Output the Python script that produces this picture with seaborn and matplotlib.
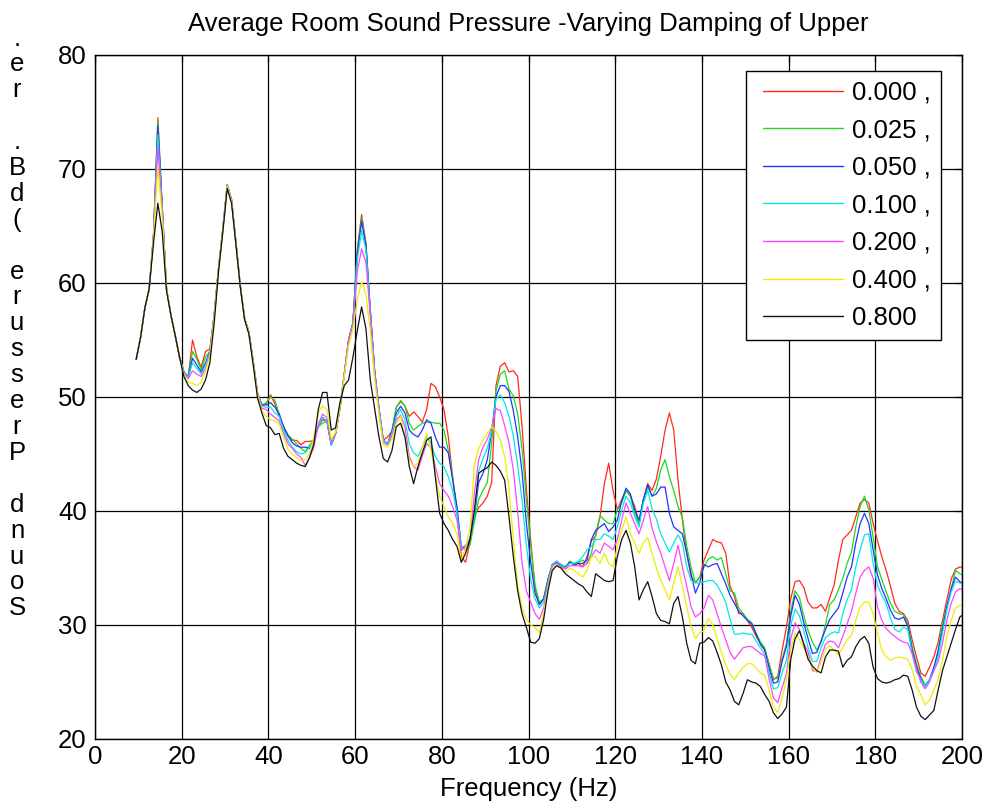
import numpy as np
import pandas as pd
import matplotlib
matplotlib.use("Agg")
import matplotlib.pyplot as plt
from matplotlib.patches import Rectangle
import seaborn as sns

# ---------------- data ----------------
freq = np.arange(9.5, 201.0, 1.0)  # Hz

damping_labels = ["0.000 ,", "0.025 ,", "0.050 ,", "0.100 ,", "0.200 ,", "0.400 ,", "0.800"]

spl_000 = [53.3, 55.2, 57.8, 59.5, 64.2, 74.5, 66.8, 59.5, 57.2, 55.4, 53.5,
           52.2, 51.8, 55.0, 53.5, 52.6, 54.0, 54.2, 57.2, 61.3, 64.8,
           68.6, 67.3, 63.6, 59.8, 56.9, 55.7, 53.1, 50.3, 49.3, 49.4,
           50.2, 49.4, 48.3, 47.3, 46.6, 46.2, 46.2, 45.8, 46.1, 46.1,
           46.2, 47.4, 48.0, 47.9, 45.8, 46.8, 49.0, 52.0, 55.0, 56.5,
           62.9, 66.0, 63.5, 57.6, 52.3, 49.0, 46.2, 46.5, 47.0, 49.1,
           49.6, 49.2, 48.3, 48.7, 48.3, 47.8, 48.9, 51.2, 50.9, 50.0,
           48.9, 46.5, 43.0, 39.8, 36.0, 35.5, 37.3, 39.5, 40.3, 40.7,
           41.3, 42.5, 51.0, 52.7, 53.0, 52.2, 52.3, 51.8, 47.5, 42.0,
           37.5, 33.3, 31.8, 32.3, 34.0, 35.3, 35.6, 35.2, 35.0, 35.5,
           35.3, 35.4, 35.1, 36.0, 37.4, 37.8, 39.5, 42.4, 44.2, 41.8,
           40.1, 41.0, 41.8, 41.3, 40.4, 38.9, 41.0, 42.4, 41.8, 42.8,
           44.8, 47.1, 48.6, 47.1, 42.7, 39.2, 36.3, 34.2, 33.7, 34.2,
           35.7, 36.6, 37.5, 37.3, 37.2, 36.3, 33.4, 32.5, 31.0, 31.0,
           30.4, 29.8, 29.0, 28.4, 27.8, 26.6, 25.2, 25.5, 27.8, 29.8,
           32.3, 33.8, 33.9, 33.3, 32.0, 31.5, 31.5, 31.8, 31.2, 32.4,
           33.5, 35.7, 37.5, 37.9, 38.3, 39.5, 40.7, 41.0, 40.7, 38.9,
           37.4, 36.0, 34.8, 33.4, 31.9, 31.2, 31.0, 30.4, 28.7, 27.2,
           25.8, 25.5, 26.3, 27.2, 28.5, 30.4, 32.2, 34.0, 34.9, 35.1,
           35.0]

spl_025 = [53.3, 55.2, 57.8, 59.5, 64.2, 74.2, 66.7, 59.5, 57.2, 55.4, 53.5,
           52.2, 51.8, 54.0, 53.3, 52.4, 53.5, 54.0, 57.2, 61.3, 64.8,
           68.6, 67.3, 63.6, 59.8, 56.9, 55.7, 53.1, 50.3, 49.3, 49.5,
           50.0, 49.7, 48.5, 47.4, 46.7, 46.3, 45.9, 45.5, 45.2, 45.8,
           46.2, 47.4, 47.7, 47.9, 45.8, 46.8, 49.0, 52.0, 55.0, 56.5,
           62.7, 65.7, 63.4, 57.6, 52.3, 49.0, 46.2, 45.9, 47.0, 49.1,
           49.7, 49.2, 47.7, 47.1, 47.4, 47.7, 47.8, 47.8, 47.7, 47.7,
           47.1, 45.3, 43.0, 40.1, 36.8, 36.6, 37.0, 39.0, 41.0, 41.8,
           42.5, 46.0, 50.5, 52.0, 52.3, 50.7, 50.1, 48.5, 45.5, 41.0,
           37.0, 33.5, 32.0, 32.3, 34.0, 35.3, 35.5, 35.2, 35.0, 35.6,
           35.4, 35.5, 35.7, 35.4, 36.3, 38.0, 39.6, 39.2, 38.9, 38.9,
           40.1, 40.7, 41.8, 41.3, 39.8, 38.9, 41.0, 42.1, 41.3, 42.0,
           43.6, 44.5, 43.0, 41.8, 40.4, 39.4, 36.9, 35.1, 33.7, 34.2,
           35.1, 35.8, 36.0, 35.7, 35.9, 34.5, 33.0, 32.8, 31.5, 31.0,
           30.5, 30.2, 29.3, 28.5, 28.0, 26.5, 25.3, 25.3, 27.0, 28.4,
           31.2, 33.0, 32.4, 30.8, 29.5, 28.5, 27.8, 28.5, 30.0, 31.8,
           32.2, 33.1, 34.1, 35.4, 36.4, 38.6, 40.4, 41.3, 40.1, 37.7,
           35.1, 34.0, 32.9, 31.9, 31.2, 31.0, 30.9, 30.1, 28.1, 26.6,
           25.5, 24.7, 25.2, 26.0, 27.8, 30.1, 31.6, 33.1, 34.8, 34.5,
           34.3]

spl_050 = [53.3, 55.2, 57.8, 59.5, 64.2, 73.8, 66.6, 59.5, 57.2, 55.4, 53.5,
           52.2, 51.7, 53.4, 52.8, 52.2, 53.0, 54.0, 57.2, 61.3, 64.8,
           68.6, 67.3, 63.6, 59.8, 56.9, 55.7, 53.1, 50.3, 49.3, 49.3,
           49.5, 49.1, 48.5, 47.4, 46.6, 46.0, 45.7, 45.6, 45.6, 45.5,
           46.2, 47.4, 48.2, 47.9, 45.8, 46.8, 49.0, 52.0, 55.0, 56.5,
           62.5, 65.4, 63.3, 57.6, 52.3, 49.0, 46.2, 45.9, 47.0, 48.6,
           49.2, 48.6, 47.1, 46.7, 46.5, 47.1, 48.0, 47.7, 46.5, 45.6,
           45.6, 45.1, 42.7, 40.4, 36.8, 36.8, 37.6, 39.5, 42.5, 43.3,
           44.5, 47.0, 50.0, 51.0, 51.0, 50.5, 48.8, 46.5, 43.5, 39.0,
           35.5, 32.8, 31.8, 32.3, 34.0, 35.3, 35.5, 35.3, 35.1, 35.5,
           35.3, 35.4, 35.4, 35.7, 37.5, 38.3, 38.6, 38.9, 38.2, 38.6,
           39.2, 40.9, 42.0, 41.5, 40.1, 39.2, 41.0, 42.3, 41.3, 41.5,
           42.1, 42.1, 39.8, 38.6, 38.3, 38.0, 36.3, 34.5, 32.8, 33.7,
           35.3, 35.1, 35.3, 35.4, 34.5, 33.6, 32.6, 31.9, 31.2, 30.8,
           30.4, 30.1, 29.2, 28.3, 27.8, 26.2, 24.9, 25.0, 26.8, 28.1,
           30.8, 32.6, 31.8, 30.2, 28.8, 27.5, 27.6, 28.6, 29.6, 30.5,
           31.0, 31.5, 32.8, 34.2, 35.1, 37.2, 38.9, 39.8, 38.9, 36.6,
           34.4, 33.2, 32.3, 31.3, 30.6, 30.5, 30.7, 29.9, 27.8, 26.3,
           25.3, 24.6, 25.2, 26.3, 27.7, 29.6, 31.6, 33.2, 34.2, 33.8,
           33.6]

spl_100 = [53.3, 55.2, 57.8, 59.5, 64.2, 73.0, 66.5, 59.5, 57.2, 55.4, 53.5,
           52.2, 51.7, 53.0, 52.5, 52.0, 52.8, 53.9, 57.2, 61.3, 64.8,
           68.6, 67.3, 63.6, 59.8, 56.9, 55.7, 53.1, 50.3, 49.2, 49.1,
           49.1, 48.6, 48.3, 47.1, 46.2, 45.6, 45.2, 45.0, 45.1, 45.6,
           46.2, 47.4, 48.2, 47.9, 45.8, 46.8, 49.0, 52.0, 55.0, 56.4,
           62.0, 64.6, 62.9, 57.5, 52.2, 49.0, 46.2, 45.9, 46.8, 48.3,
           48.9, 48.0, 45.9, 45.1, 44.8, 45.6, 46.5, 45.9, 44.8, 44.2,
           43.9, 43.0, 41.8, 39.8, 36.8, 37.0, 37.4, 39.5, 43.5, 44.6,
           45.5, 47.0, 49.8, 50.2, 49.5, 48.3, 46.6, 44.0, 41.0, 37.0,
           34.0, 32.3, 31.5, 32.0, 33.8, 35.3, 35.6, 35.3, 35.0, 35.4,
           35.4, 35.6, 36.0, 36.6, 36.9, 37.5, 37.5, 38.0, 37.8, 37.5,
           38.6, 40.1, 41.3, 40.7, 39.5, 38.6, 40.7, 41.8, 40.2, 39.3,
           38.0, 37.2, 36.4, 37.2, 37.9, 37.2, 35.1, 33.9, 33.7, 33.7,
           33.8, 33.9, 33.9, 33.5, 32.8, 32.0, 30.5, 29.2, 29.2, 29.3,
           29.2, 29.2, 28.6, 28.0, 27.4, 25.8, 24.4, 24.5, 25.8, 26.9,
           30.0, 31.4, 30.8, 29.5, 28.0, 26.8, 26.8, 28.0, 28.9, 29.2,
           29.4, 29.3, 31.0, 32.2, 33.1, 35.1, 36.6, 37.9, 38.0, 35.4,
           33.5, 32.6, 31.9, 30.6, 29.6, 29.4, 29.8, 29.6, 27.5, 25.9,
           25.2, 24.6, 25.2, 26.0, 27.2, 29.3, 31.3, 32.9, 33.8, 33.7,
           33.5]

spl_200 = [53.3, 55.2, 57.8, 59.5, 64.2, 72.0, 66.2, 59.5, 57.2, 55.4, 53.5,
           52.1, 51.6, 52.3, 52.0, 51.8, 52.5, 53.8, 57.2, 61.3, 64.8,
           68.6, 67.3, 63.6, 59.8, 56.9, 55.7, 53.1, 50.3, 49.0, 48.9,
           48.5, 48.2, 47.9, 46.8, 45.9, 45.5, 45.0, 44.7, 44.0, 44.7,
           45.6, 47.6, 48.5, 48.2, 46.0, 46.8, 49.0, 52.0, 55.0, 56.3,
           61.0, 63.0, 61.8, 57.2, 52.0, 48.8, 46.0, 45.8, 46.6, 48.0,
           48.4, 47.4, 44.8, 43.9, 43.6, 44.8, 45.9, 45.6, 43.9, 42.4,
           41.8, 41.3, 40.4, 39.2, 36.5, 37.0, 37.3, 41.5, 44.5, 45.6,
           46.3, 47.3, 49.0, 48.8, 47.5, 46.0, 43.6, 40.0, 35.5, 33.0,
           32.0, 31.0, 30.5, 31.5, 33.5, 35.2, 35.4, 35.1, 34.9, 35.2,
           35.2, 35.2, 35.1, 35.4, 36.0, 36.6, 36.3, 37.2, 36.9, 36.6,
           37.5, 39.2, 40.7, 39.8, 38.9, 38.0, 39.2, 40.4, 38.5, 37.3,
           36.3, 35.1, 33.9, 35.4, 37.0, 35.1, 33.4, 31.6, 30.7, 31.0,
           31.5, 32.6, 32.2, 31.0, 29.8, 28.7, 27.6, 27.0, 27.5, 28.0,
           28.1, 28.1, 27.8, 27.5, 27.3, 25.3, 23.6, 23.2, 24.5, 25.7,
           28.8, 30.2, 29.6, 28.4, 27.6, 26.0, 25.9, 27.2, 28.3, 28.6,
           28.5, 28.0, 29.0, 30.1, 31.2, 32.8, 34.2, 34.8, 35.1, 34.1,
           31.6, 30.4, 29.7, 29.3, 29.0, 28.7, 28.5, 28.4, 27.5, 26.1,
           25.0, 24.4, 25.0, 26.0, 26.8, 28.4, 30.4, 31.9, 32.9, 33.2,
           33.0]

spl_400 = [53.3, 55.2, 57.8, 59.5, 64.0, 70.2, 65.8, 59.5, 57.2, 55.4, 53.5,
           52.0, 51.3, 51.2, 51.0, 51.3, 52.3, 53.6, 57.0, 61.2, 64.7,
           68.5, 67.2, 63.5, 59.8, 56.9, 55.6, 53.0, 50.2, 48.8, 48.3,
           48.0, 47.9, 47.6, 46.5, 45.4, 45.0, 44.7, 44.4, 44.5, 45.1,
           46.5, 48.6, 49.2, 48.9, 46.3, 46.9, 49.0, 51.8, 54.5, 56.0,
           58.5, 60.1, 59.0, 55.8, 51.6, 48.5, 45.8, 45.6, 46.3, 47.7,
           48.3, 46.5, 44.5, 43.9, 44.2, 45.6, 46.8, 45.3, 43.3, 41.3,
           40.4, 39.5, 38.9, 38.0, 35.6, 36.8, 38.5, 44.0, 45.5, 46.2,
           46.8, 47.4, 47.0, 46.2, 44.8, 42.0, 37.5, 33.5, 31.5, 30.5,
           30.0, 29.8, 29.3, 31.0, 33.3, 35.0, 35.2, 35.0, 34.6, 35.0,
           34.8, 34.5, 34.2, 34.8, 36.0, 36.0, 35.4, 36.3, 35.4, 35.1,
           36.9, 38.3, 39.5, 38.0, 37.2, 36.3, 37.2, 37.7, 36.3, 35.0,
           33.9, 33.1, 32.2, 33.7, 35.1, 33.4, 31.6, 29.9, 28.8, 29.3,
           29.5, 30.6, 30.0, 28.8, 27.6, 26.5, 25.7, 25.2, 25.8, 26.3,
           26.6, 26.6, 26.2, 25.8, 25.6, 24.3, 22.8, 22.3, 23.6, 25.2,
           27.8, 29.3, 28.7, 28.0, 27.2, 26.2, 25.8, 26.8, 27.9, 28.2,
           27.8, 27.4, 28.0, 28.7, 29.1, 30.4, 31.6, 32.0, 32.0, 31.0,
           29.3, 27.8, 27.2, 26.9, 27.1, 27.2, 27.1, 27.0, 26.1, 24.6,
           23.9, 23.0, 23.4, 24.3, 25.2, 26.9, 29.0, 30.4, 31.5, 31.7,
           31.8]

spl_800 = [53.3, 55.2, 57.8, 59.5, 63.5, 67.0, 64.5, 59.3, 57.2, 55.4, 53.5,
           51.8, 51.0, 50.6, 50.4, 50.7, 51.5, 53.0, 56.5, 61.0, 64.5,
           68.3, 67.0, 63.4, 59.7, 56.8, 55.5, 52.8, 49.9, 48.6, 47.5,
           47.3, 46.7, 46.8, 45.5, 44.8, 44.5, 44.2, 44.0, 43.9, 44.7,
           45.9, 48.9, 50.4, 50.4, 47.1, 47.3, 49.5, 51.0, 51.5, 53.5,
           55.8, 57.9, 56.0, 51.5, 49.0, 46.5, 44.6, 44.3, 45.3, 47.4,
           47.7, 46.5, 43.9, 42.4, 43.9, 45.1, 46.2, 46.5, 43.0, 39.8,
           38.9, 38.3, 37.5, 36.9, 35.5, 36.3, 37.5, 40.0, 43.3, 43.6,
           43.8, 44.3, 44.0, 43.5, 42.7, 39.5, 36.0, 33.0, 31.0, 29.8,
           28.5, 28.4, 28.8, 30.5, 33.0, 34.8, 35.2, 35.0, 34.5, 34.2,
           33.9, 33.6, 33.4, 32.9, 32.5, 34.5, 34.2, 33.9, 33.8, 33.9,
           36.0, 37.5, 38.3, 37.2, 35.1, 32.2, 33.1, 33.8, 32.5, 31.0,
           30.4, 30.3, 30.1, 31.9, 32.5, 30.7, 28.4, 26.9, 26.6, 28.4,
           28.5, 28.9, 28.6, 27.6, 26.5, 25.0, 24.3, 23.3, 23.0, 24.0,
           25.2, 25.0, 24.9, 24.6, 23.9, 23.3, 22.3, 21.8, 22.2, 22.8,
           27.0, 28.8, 29.5, 28.3, 27.0, 26.4, 26.0, 25.8, 27.2, 27.8,
           27.8, 27.7, 26.3, 26.9, 27.2, 28.1, 28.7, 29.0, 28.4, 26.3,
           25.3, 25.0, 24.9, 25.0, 25.2, 25.3, 25.6, 25.5, 24.3, 22.8,
           22.0, 21.7, 22.1, 22.5, 24.3, 26.0, 27.2, 28.4, 29.6, 30.7,
           31.0]

series = [spl_000, spl_025, spl_050, spl_100, spl_200, spl_400, spl_800]
line_colors = ["#ff2a1a", "#1ed81e", "#2233ff", "#00e8e8", "#ff44ff", "#eeee00", "#111111"]

title_text = "Average Room Sound Pressure -Varying Damping of Upper"
xlabel_text = "Frequency (Hz)"
ylabel_rows = [".", "e", "r", " ", ".", "B", "d", "(", " ", "e", "r", "u", "s", "s",
               "e", "r", "P", " ", "d", "n", "u", "o", "S"]

# ---------------- plot ----------------
sns.set_style("white")
plt.rcParams["font.family"] = ["Liberation Sans", "DejaVu Sans"]
plt.rcParams["text.color"] = "black"
plt.rcParams["axes.labelcolor"] = "black"
plt.rcParams["xtick.color"] = "black"
plt.rcParams["ytick.color"] = "black"

df = pd.concat(
    [pd.DataFrame({"Frequency": freq, "SPL": vals, "Damping": lab})
     for lab, vals in zip(damping_labels, series)],
    ignore_index=True)

W, H = 987, 809
fig = plt.figure(figsize=(W / 100, H / 100), dpi=100)
ax = fig.add_axes([95 / W, 1 - 739 / H, 867 / W, 684 / H])

sns.lineplot(data=df, x="Frequency", y="SPL", hue="Damping",
             hue_order=damping_labels, palette=line_colors,
             estimator=None, sort=False, linewidth=0.9, ax=ax)

FS = 18.5
ax.set_xlim(0, 200)
ax.set_ylim(20, 80)
ax.set_xticks(range(0, 201, 20))
ax.set_yticks(range(20, 81, 10))
ax.grid(True, color="black", linewidth=0.9)
ax.set_axisbelow(True)
ax.tick_params(axis="both", direction="in", length=5, width=0.9,
               labelsize=FS, colors="black", top=True, right=True)
ax.tick_params(axis="x", pad=4)
ax.tick_params(axis="y", pad=6)
for s in ax.spines.values():
    s.set_color("black")
    s.set_linewidth(1.0)

ax.set_xlabel(xlabel_text, fontsize=FS, labelpad=6, color="black")
ax.set_ylabel("")
ax.set_title(title_text, fontsize=FS, pad=17, color="black")

# legend box (frame drawn as a separate rectangle to match the reference box)
to_ax = lambda px, py: ((px - 95) / 867, (739 - py) / 684)
x0, y0 = to_ax(746, 340)
x1, y1 = to_ax(941, 71)
ax.add_patch(Rectangle((x0, y0), x1 - x0, y1 - y0, transform=ax.transAxes,
                       facecolor="white", edgecolor="black", linewidth=1.0,
                       zorder=5))

handles, labels = ax.get_legend_handles_labels()
leg = ax.legend(handles, labels, loc="upper left",
                bbox_to_anchor=(763 / W, 1 - 80.5 / H),
                bbox_transform=fig.transFigure, borderaxespad=0,
                fontsize=FS, frameon=False, handlelength=3.1,
                handletextpad=0.35, labelspacing=0.53, borderpad=0)
leg.set_zorder(6)
for h in leg.get_lines():
    h.set_linewidth(1.0)

for i, ch in enumerate(ylabel_rows):
    fig.text(17 / W, 1 - (36 + i * 25.9) / H, ch, fontsize=FS,
             ha="center", va="center_baseline", color="black")

fig.savefig("out.png", dpi=100, facecolor="white")
